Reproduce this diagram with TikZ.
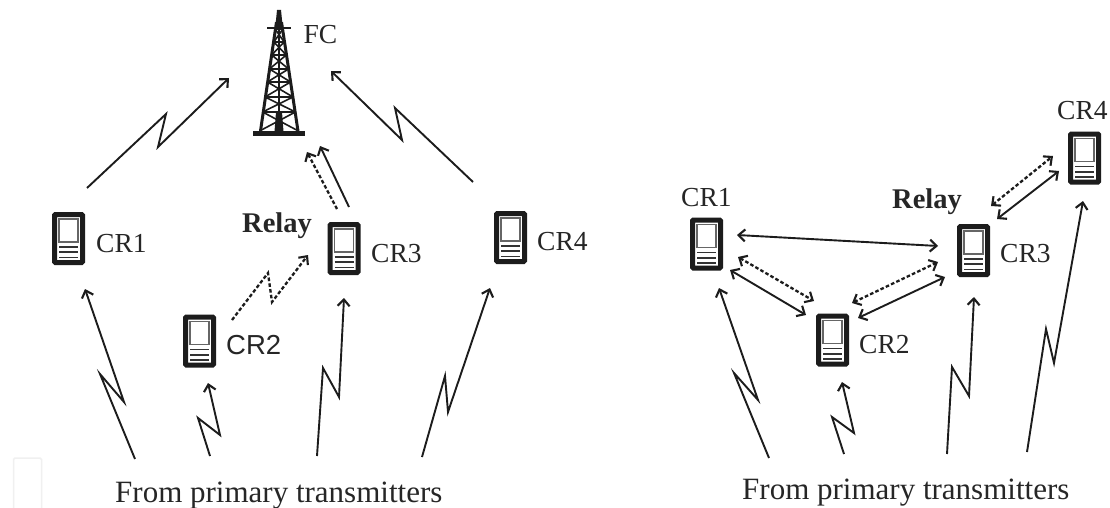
\documentclass[tikz,border=0pt]{standalone}
\usepackage{fontspec}
\setmainfont{Liberation Serif}
\newfontfamily\sanslabel{Liberation Sans}
\usetikzlibrary{arrows.meta}
\definecolor{ink}{HTML}{1C1C1C}
\definecolor{txt}{HTML}{262626}
\tikzset{
  link/.style={draw=ink,line width=1.9pt,line join=miter,-{Straight Barb[length=6.5pt,width=12pt,line width=2.1pt]}},
  linkboth/.style={link,{Straight Barb[length=6.5pt,width=12pt,line width=2.1pt]}-{Straight Barb[length=6.5pt,width=12pt,line width=2.1pt]}},
  dotted link/.style={dash pattern=on 3.6pt off 2.2pt,line width=2.3pt},
  devbox/.style={draw=ink,fill=white,line width=5pt,rounded corners=0.8pt,minimum width=28pt,minimum height=48pt,inner sep=0pt},
  crlabel/.style={anchor=base west,inner sep=0pt,text=txt,font=\fontsize{27.5}{30}\selectfont},
  relaylabel/.style={anchor=base west,inner sep=0pt,text=txt,font=\fontsize{28.5}{30}\selectfont\bfseries},
  fromlabel/.style={anchor=base west,inner sep=0pt,text=txt,font=\fontsize{31}{34}\selectfont},
}
\newcommand{\device}[3]{%
  \node[devbox] (#1) at (#2,#3) {};
  \begin{scope}[shift={(#2,#3)}]
    \draw[draw=gray!80!black,line width=1.8pt] (-9.5,-19.5) rectangle (9.5,3.5);
    \draw[draw=ink!90,line width=1.8pt] (-9.5,8.5) -- (9.5,8.5) (-9.5,13.7) -- (9.5,13.7) (-9.5,19) -- (9.5,19);
  \end{scope}}
\begin{document}
\begin{tikzpicture}[x=1pt,y=-1pt]
\useasboundingbox[fill=white] (0,0) rectangle (1110,508);
\draw[draw=black!6,line width=1.5pt,rounded corners=1.5pt] (13.5,508) -- (13.5,458) -- (41.5,458) -- (41.5,508);
% tower
\coordinate (fc) at (279,136);
\fill[ink] (253,131) rectangle (305,136);
\fill[ink] (277,10) -- (281,10) -- (283,30) -- (275,30) -- cycle;
\fill[ink] (274.5,131.5) -- (276,112) -- (282,112) -- (283.5,131.5) -- cycle;
\draw[ink,line width=2.6pt] (267,28) -- (291,28);
\draw[ink,line width=3pt] (276.5,22) -- (260.5,131) (281.5,22) -- (298,131);
\draw[ink,line width=1.6pt] (279,30) -- (279,112);
\foreach \ya/\yb in {131/112,112/97,97/82,82/69,69/55,55/42,42/30}{
  \pgfmathsetmacro{\ha}{(\ya-10)*0.161}
  \pgfmathsetmacro{\hb}{(\yb-10)*0.161}
  \draw[ink,line width=1.6pt] (279-\ha,\ya) -- (279+\hb,\yb) (279+\ha,\ya) -- (279-\hb,\yb);
  \ifnum\yb>30\relax
    \draw[ink,line width=2.2pt] (279-\hb,\yb) -- (279+\hb,\yb);
  \fi
}
% devices, left panel
\device{la}{68.5}{238.5}
\device{lb}{199.5}{341}
\device{lc}{344}{248.5}
\device{ld}{510.5}{237.5}
% devices, right panel
\device{ra}{706.5}{244}
\device{rb}{832.5}{340}
\device{rc}{973.5}{250.5}
\device{rd}{1084.5}{158}
% labels
\node[crlabel] (tfc) at (303.5,44) {FC};
\node[crlabel] (tla) at (96,252) {CR1};
\node[crlabel,font=\sanslabel\fontsize{27.5}{30}\selectfont] (tlb) at (226,354) {CR2};
\node[crlabel] (tlc) at (371,262) {CR3};
\node[crlabel] (tld) at (537,250) {CR4};
\node[relaylabel] (trl) at (242,232) {Relay};
\node[crlabel] (tra) at (681,206) {CR1};
\node[crlabel] (trb) at (859,353) {CR2};
\node[crlabel] (trc) at (1000,262) {CR3};
\node[crlabel] (trd) at (1057,120) {CR4};
\node[relaylabel] (trr) at (892,208) {Relay};
\node[fromlabel] (fl) at (115,502) {From primary transmitters};
\node[fromlabel] (fr) at (742,499) {From primary transmitters};
% free ends at the bottom
\coordinate (s1) at (135,459);
\coordinate (s2) at (210,456);
\coordinate (s3) at (317,456);
\coordinate (s4) at (422,457);
\coordinate (s5) at (769,458);
\coordinate (s6) at (844,454);
\coordinate (s7) at (947,454);
\coordinate (s8) at (1027,452);
% left panel links
\draw[link] ([shift={(18.5,-50.5)}]la.center) -- (166,114) -- (158,147) -- ([shift={(-50,-58)}]fc);
\draw[link] ([shift={(-37.5,-55.5)}]ld.center) -- (395,108) -- (402,140) -- ([shift={(52,-65)}]fc);
\draw[link] ([shift={(5,-41.5)}]lc.center) -- ([shift={(41,10)}]fc);
\draw[link,dotted link] ([shift={(-7,-39.5)}]lc.center) -- ([shift={(28,16)}]fc);
\draw[link,dotted link] ([shift={(32.5,-21)}]lb.center) -- (268,273) -- (272,302) -- ([shift={(-36,6.5)}]lc.center);
\draw[link] (s1) -- (100,374) -- (124,402) -- ([shift={(16.5,50.5)}]la.center);
\draw[link] (s2) -- (198,418) -- (220,435) -- ([shift={(8.5,42)}]lb.center);
\draw[link] (s3) -- (323,368) -- (339,397) -- ([shift={(0,49.5)}]lc.center);
\draw[link] (s4) -- (445,376) -- (448,412) -- ([shift={(-20.5,50.5)}]ld.center);
% right panel links
\draw[linkboth] ([shift={(30.5,-9)}]ra.center) -- ([shift={(-35.5,-4.5)}]rc.center);
\draw[linkboth,dotted link] ([shift={(31.5,13)}]ra.center) -- ([shift={(-18.5,-39)}]rb.center);
\draw[linkboth] ([shift={(23.5,26)}]ra.center) -- ([shift={(-26.5,-25)}]rb.center);
\draw[linkboth,dotted link] ([shift={(19.5,-37)}]rb.center) -- ([shift={(-35.5,11.5)}]rc.center);
\draw[linkboth] ([shift={(25.5,-22)}]rb.center) -- ([shift={(-28.5,26.5)}]rc.center);
\draw[linkboth,dotted link] ([shift={(17.5,-44.5)}]rc.center) -- ([shift={(-31.5,-2)}]rd.center);
\draw[linkboth] ([shift={(23.5,-31.5)}]rc.center) -- ([shift={(-25.5,13)}]rd.center);
\draw[link] (s5) -- (734,373) -- (758,400) -- ([shift={(12.5,44)}]ra.center);
\draw[link] (s6) -- (832,417) -- (854,433) -- ([shift={(9.5,42)}]rb.center);
\draw[link] (s7) -- (952,367) -- (969,396) -- ([shift={(0.5,46.5)}]rc.center);
\draw[link] (s8) -- (1046,329) -- (1054,363) -- ([shift={(-1.5,43)}]rd.center);
\end{tikzpicture}
\end{document}
